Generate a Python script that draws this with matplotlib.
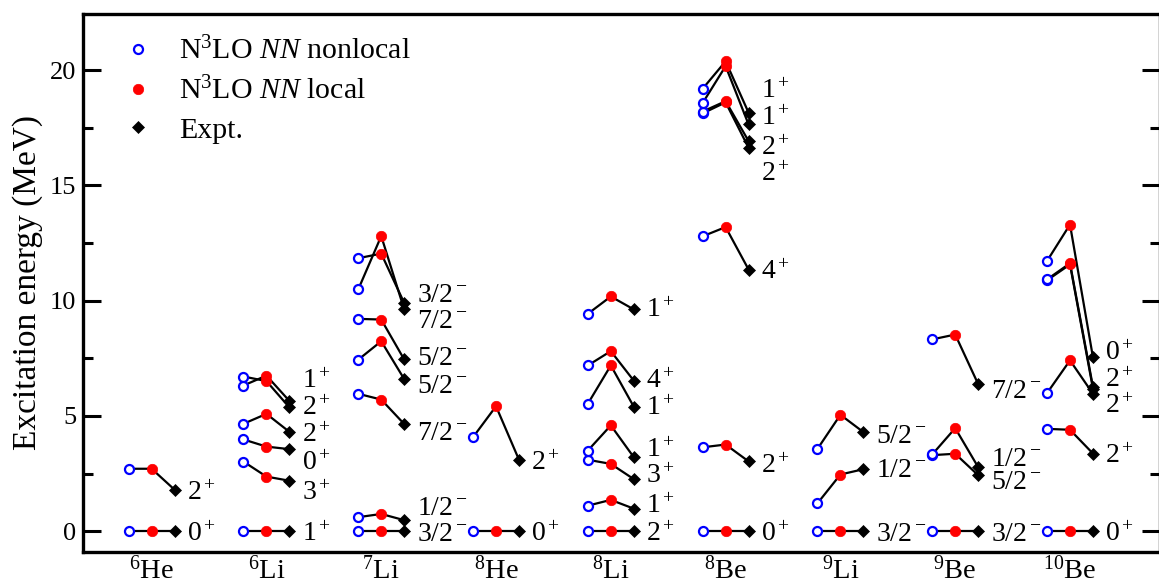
import matplotlib
matplotlib.use("Agg")
import matplotlib.pyplot as plt
from matplotlib.ticker import MultipleLocator

plt.rcParams['font.family'] = 'Liberation Serif'
plt.rcParams['mathtext.fontset'] = 'custom'
plt.rcParams['mathtext.rm'] = 'Liberation Serif'
plt.rcParams['mathtext.it'] = 'Liberation Serif:italic'

# Nuclei along the x axis
nuclei = ['$^{6}$He', '$^{6}$Li', '$^{7}$Li', '$^{8}$He', '$^{8}$Li',
          '$^{8}$Be', '$^{9}$Li', '$^{9}$Be', '$^{10}$Be']

# Excitation energies (MeV), one list per nucleus, same level order in each series
nonlocal_e = [
    [0, 2.71],
    [0, 3.02, 3.98, 4.66, 6.71, 6.32],
    [0, 0.61, 5.96, 7.44, 9.21, 10.49, 11.84],
    [0, 4.08],
    [0, 1.11, 3.10, 3.50, 5.53, 7.19, 9.43],
    [0, 3.64, 12.79, 18.12, 18.20, 18.57, 19.19],
    [0, 1.21, 3.57],
    [0, 3.30, 3.33, 8.32],
    [0, 4.44, 5.99, 10.88, 10.92, 11.72],
]
local_e = [
    [0, 2.71],
    [0, 2.37, 3.67, 5.09, 6.51, 6.75],
    [0, 0.75, 5.71, 8.24, 9.18, 12.80, 12.04],
    [0, 5.42],
    [0, 1.36, 2.92, 4.59, 7.19, 7.81, 10.18],
    [0, 3.76, 13.19, 18.60, 18.65, 20.17, 20.38],
    [0, 2.46, 5.05],
    [0, 3.36, 4.47, 8.53],
    [0, 4.40, 7.41, 11.57, 11.62, 13.30],
]
expt_e = [
    [0, 1.80],
    [0, 2.19, 3.56, 4.31, 5.37, 5.65],
    [0, 0.48, 4.65, 6.60, 7.45, 9.62, 9.90],
    [0, 3.10],
    [0, 0.98, 2.26, 3.21, 5.40, 6.53, 9.62],
    [0, 3.03, 11.35, 16.63, 16.92, 17.64, 18.15],
    [0, 2.69, 4.30],
    [0, 2.43, 2.78, 6.38],
    [0, 3.37, 5.96, 6.18, 6.26, 7.54],
]

# Spin-parity labels next to the experimental levels
spins = [
    ['0^+', '2^+'],
    ['1^+', '3^+', '0^+', '2^+', '2^+', '1^+'],
    ['3/2^-', '1/2^-', '7/2^-', '5/2^-', '5/2^-', '7/2^-', '3/2^-'],
    ['0^+', '2^+'],
    ['2^+', '1^+', '3^+', '1^+', '1^+', '4^+', '1^+'],
    ['0^+', '2^+', '4^+', '2^+', '2^+', '1^+', '1^+'],
    ['3/2^-', '1/2^-', '5/2^-'],
    ['3/2^-', '5/2^-', '1/2^-', '7/2^-'],
    ['0^+', '2^+', '2^+', '2^+', '0^+'],
]
# heights of those labels, spread apart so they do not overlap
spin_y = [
    [0, 1.78],
    [0, 1.78, 3.08, 4.30, 5.47, 6.64],
    [0, 1.13, 4.38, 6.41, 7.64, 9.23, 10.38],
    [0, 3.08],
    [0, 1.20, 2.50, 3.66, 5.47, 6.62, 9.73],
    [0, 2.94, 11.35, 15.59, 16.75, 18.05, 19.21],
    [0, 2.79, 4.24],
    [0, 2.26, 3.27, 6.19],
    [0, 3.37, 5.54, 6.69, 7.85],
]

dx = 0.2  # offset of the nonlocal / expt columns from the nucleus centre

fig = plt.figure(figsize=(11.59, 5.88), dpi=100)
ax = fig.add_axes([83 / 1159, 36 / 588, 1077 / 1159, 538 / 588])

nl_x, nl_y, lo_x, lo_y, ex_x, ex_y = [], [], [], [], [], []
for i in range(len(nuclei)):
    for a, b, c in zip(nonlocal_e[i], local_e[i], expt_e[i]):
        ax.plot([i - dx, i, i + dx], [a, b, c], color='black', lw=1.6,
                zorder=1, solid_capstyle='butt')
        nl_x.append(i - dx); nl_y.append(a)
        lo_x.append(i); lo_y.append(b)
        ex_x.append(i + dx); ex_y.append(c)
    for s, y in zip(spins[i], spin_y[i]):
        ax.annotate('$' + s + '$', xy=(i + dx, y), xytext=(9, -7),
                    textcoords='offset points', ha='left', va='baseline',
                    fontsize=20)

ax.plot(nl_x, nl_y, 'o', ls='none', mfc='white', mec='blue', ms=6.5,
        mew=1.6, zorder=3, label='N$^{3}$LO $NN$ nonlocal')
ax.plot(lo_x, lo_y, 'o', ls='none', mfc='red', mec='red', ms=7.5,
        mew=0.5, zorder=3, label='N$^{3}$LO $NN$ local')
ax.plot(ex_x, ex_y, 'D', ls='none', mfc='black', mec='black', ms=5.8,
        mew=0.5, zorder=3, label='Expt.')

ax.legend(loc='upper left', bbox_to_anchor=(0.0375, 0.957), frameon=False,
          fontsize=21.5, handlelength=0.95, handletextpad=0.92,
          labelspacing=0.38, borderpad=0, borderaxespad=0)

ax.set_xlim(-0.598, 8.784)
ax.set_ylim(-0.9, 22.43)
ax.set_xticks(range(len(nuclei)))
ax.set_xticklabels(nuclei, fontsize=20.5)
ax.tick_params(axis='x', length=0, pad=3)

ax.yaxis.set_major_locator(MultipleLocator(5))
ax.yaxis.set_minor_locator(MultipleLocator(2.5))
ax.tick_params(axis='y', which='both', direction='in', left=True,
               right=True, width=2.2, labelsize=19, pad=5)
ax.tick_params(axis='y', which='major', length=13)
ax.tick_params(axis='y', which='minor', length=7)
for sp in ax.spines.values():
    sp.set_linewidth(2.4)

ax.set_ylabel('Excitation energy (MeV)', fontsize=24)
ax.yaxis.set_label_coords(-0.037, 0.5)

fig.savefig('out.png', dpi=100)
